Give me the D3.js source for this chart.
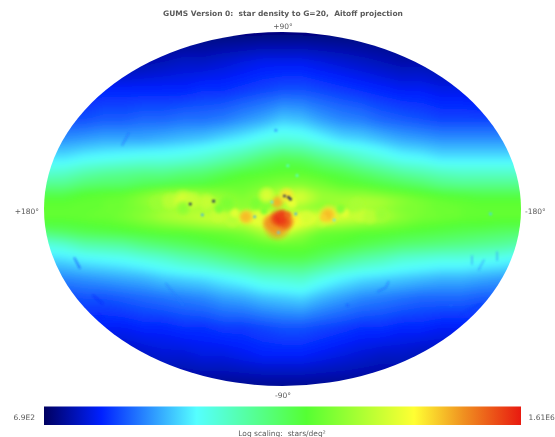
<!DOCTYPE html>
<html>
<head>
<meta charset="utf-8">
<script src="https://cdn.jsdelivr.net/npm/d3@7"></script>
<style>
  html, body { margin: 0; padding: 0; background: #fff; overflow: hidden; }
  text { font-family: "DejaVu Sans", sans-serif; fill: #5a5a5a; }
</style>
</head>
<body>
<script>
// map grid: longitude of each column, latitude of each row (degrees on the map axes)
var colLon = [180, 165, 150, 135, 120, 105, 90, 75, 60, 45, 30, 15, 0, -15, -30, -45, -60, -75, -90, -105, -120, -135, -150, -165, -180];
var rowLat = [90, 75, 60, 45, 35, 25, 18, 12, 8, 4, 0, -4, -8, -12, -18, -25, -35, -45, -60, -75, -90];

// star density, as position on the colour bar (0 = 6.9E2, 100 = 1.61E6)
var levels = [
  [2, 2, 2, 2, 2, 2, 2, 2, 2, 2, 2, 2, 2, 2, 2, 2, 2, 2, 2, 2, 2, 2, 2, 2, 2],
  [5, 5, 5, 5, 5, 6, 7, 8, 8, 9, 10, 11, 11, 11, 10, 9, 8, 7, 6, 6, 5, 5, 5, 5, 5],
  [12, 12, 12, 13, 13, 13, 13, 13, 14, 14, 15, 16, 17, 17, 16, 15, 14, 13, 12, 12, 11, 11, 10, 10, 10],
  [16, 17, 17, 18, 18, 19, 19, 20, 20, 21, 23, 25, 28, 27, 24, 22, 21, 19, 18, 17, 16, 16, 16, 16, 16],
  [23, 23, 24, 25, 25, 25, 26, 27, 28, 30, 32, 35, 37, 36, 33, 30, 29, 27, 25, 24, 23, 23, 23, 23, 23],
  [31, 31, 33, 34, 35, 36, 36, 37, 39, 42, 45, 49, 52, 51, 47, 44, 40, 37, 34, 33, 31, 31, 31, 31, 31],
  [38, 39, 42, 44, 45, 46, 46, 48, 49, 52, 55, 56, 57, 57, 55, 53, 50, 47, 44, 42, 40, 39, 39, 39, 39],
  [46, 46, 49, 50, 50, 52, 53, 54, 55, 57, 58, 60, 62, 62, 60, 57, 56, 54, 52, 50, 47, 46, 46, 46, 46],
  [52, 52, 55, 56, 57, 60, 64, 66, 64, 62, 60, 64, 70, 72, 64, 62, 62, 60, 58, 56, 54, 53, 52, 52, 52],
  [56, 56, 57, 58, 59, 63, 68, 70, 70, 66, 62, 64, 72, 72, 64, 66, 68, 67, 63, 60, 58, 57, 56, 56, 56],
  [57, 57, 57, 58, 59, 61, 64, 66, 66, 64, 62, 62, 64, 63, 62, 64, 66, 64, 61, 60, 58, 58, 57, 57, 57],
  [57, 57, 58, 58, 60, 63, 67, 69, 71, 72, 76, 78, 88, 78, 75, 74, 72, 69, 63, 60, 59, 58, 57, 57, 57],
  [54, 54, 55, 56, 57, 59, 61, 63, 65, 67, 68, 74, 84, 74, 67, 65, 63, 61, 59, 57, 56, 55, 55, 54, 54],
  [48, 50, 52, 53, 54, 55, 56, 56, 57, 58, 60, 66, 72, 64, 58, 57, 56, 56, 55, 54, 53, 52, 51, 50, 49],
  [36, 38, 42, 43, 44, 47, 49, 51, 53, 55, 56, 57, 58, 58, 56, 55, 53, 51, 49, 48, 47, 46, 45, 44, 42],
  [29, 30, 32, 33, 34, 36, 38, 41, 43, 46, 49, 52, 53, 53, 50, 46, 43, 41, 38, 37, 36, 36, 35, 34, 32],
  [21, 22, 23, 24, 25, 26, 28, 29, 30, 32, 34, 37, 38, 39, 35, 32, 30, 29, 28, 27, 26, 26, 25, 24, 23],
  [16, 16, 17, 17, 18, 19, 20, 21, 22, 24, 25, 27, 28, 29, 26, 24, 22, 21, 20, 19, 19, 19, 18, 18, 17],
  [12, 12, 12, 12, 12, 13, 13, 14, 14, 15, 15, 16, 17, 17, 16, 15, 14, 14, 13, 13, 12, 12, 12, 12, 12],
  [6, 6, 6, 7, 7, 8, 9, 9, 10, 10, 11, 12, 12, 12, 11, 10, 9, 8, 8, 7, 7, 6, 6, 6, 6],
  [4, 4, 4, 4, 4, 4, 4, 4, 4, 4, 4, 4, 4, 4, 4, 4, 4, 4, 4, 4, 4, 4, 4, 4, 4]
];

// clumps in the plane, painted in this order
var clumpLon = [95, 85, 75, 68, 57, 49, 38, 36, 19, 27, -18, -30, -35, -47, -59, -66, -75, -56, 42, 12, 20, 75, 48, -44, 14, 4, 9, -2, 3, 0, -4, 28, -34, -31, 4, -3, -7, 12];
var clumpLat = [3, 4, 4.5, 4.5, 3.5, -3, -6, -2, -4.5, -4, -4.5, -6, -3, -2, -3, -4, -3, 2, 3, 3, 3, 0.5, 0, 0, -1, -9, -7, -6.6, -4.6, -3, -3, -4, -3, -4.5, 3.5, 7, 3, 7];
var clumpLevel = [64, 68, 72, 70, 70, 70, 68, 74, 74, 82, 72, 70, 80, 74, 70, 68, 64, 66, 60, 61, 60, 62, 60, 61, 60, 88, 88, 94, 98, 96, 92, 84, 84, 82, 85, 80, 75, 73];
var clumpSize = [9, 10, 12, 10, 10, 9, 8, 6, 9, 9, 9, 8, 12, 6, 9, 9, 9, 9, 10, 7, 8, 9, 6, 6, 5, 15, 10, 10, 10, 7, 5, 7, 8, 5, 8, 9, 7, 10];

// small holes in the density (clusters, clouds)
var holeLon = [69.6, 52, -4.5, -6, -1.5, 60.5, 21, -10, 3, 8, -39, -4, -11, -157, 5, -49, -127];
var holeLat = [2.5, 4, 6, 5, 6.6, -3, -4, -2.5, -12, 3.5, -5.6, 22, 17, -2.5, 40, -49, -49];
var holeLevel = [0, 0, 0, 0, 0, 24, 24, 24, 28, 30, 30, 35, 35, 28, 22, 18, 18];

// dark streaks as [lon, lat] runs
var streaks = [
  [[157, -25], [153, -30]],
  [[116, 38.6], [121, 32.5]],
  [[-80, -37], [-78, -40], [-72, -42]],
  [[-134, -54], [-150, -48]],
  [[-143, -24], [-143, -28]],
  [[-152, -26], [-148, -31]],
  [[-162, -22], [-162, -26]],
  [[143, -44], [136, -48]],
  [[140, -53], [135, -56]],
  [[88, -38], [75, -49]]
];
var streakLevel = [12, 18, 18, 14, 22, 22, 22, 12, 12, 20];

// colour bar
var barStops = [0, 12, 32, 55, 77.6, 88, 100];
var barColors = ['#000060', '#0020ff', '#55ffff', '#55ff33', '#ffff33', '#f09020', '#e81a10'];

var width = 555;
var height = 437;

var x = d3.scaleLinear().domain([180, -180]).range([44, 521]);
var y = d3.scaleLinear().domain([90, -90]).range([32, 386]);
var color = d3.scaleLinear().domain(barStops).range(barColors).clamp(true);

var svg = d3.select('body').append('svg')
  .attr('width', width)
  .attr('height', height);

var defs = svg.append('defs');

function blur(id, amount) {
  defs.append('filter').attr('id', id)
    .attr('x', '-10%').attr('y', '-10%').attr('width', '120%').attr('height', '120%')
    .append('feGaussianBlur').attr('stdDeviation', amount);
}
blur('soft', 3);
blur('soft-clump', 0.8);
blur('soft-dot', 0.8);
blur('soft-text', 0.3);

// aitoff outline is an ellipse filling the axes box
var sky = svg.append('g').attr('clip-path', 'url(#sky)');

defs.append('clipPath').attr('id', 'sky')
  .append('ellipse')
  .attr('cx', x(0))
  .attr('cy', y(0))
  .attr('rx', x(-180) - x(0))
  .attr('ry', y(-90) - y(0));

// contour bands over the grid, columns and rows placed through the scales
var colPos = d3.scaleLinear().domain(colLon.map(function(d, i) { return i + 0.5; })).range(colLon.map(x));
var rowPos = d3.scaleLinear().domain(rowLat.map(function(d, i) { return i + 0.5; })).range(rowLat.map(y));

var contours = d3.contours()
  .size([colLon.length, rowLat.length])
  .thresholds(d3.range(0, 100, 1))(levels.flat());

var gridPath = d3.geoPath(d3.geoTransform({
  point: function(px, py) { this.stream.point(colPos(px), rowPos(py)); }
}));

sky.append('g').attr('filter', 'url(#soft)')
  .selectAll('.band')
  .data(contours)
  .enter().append('path')
  .attr('class', 'band')
  .attr('d', gridPath)
  .attr('fill', function(d) { return color(d.value); });

// each clump fades out to nothing so they melt together
var clumpGrads = defs.selectAll('.clump-grad')
  .data(clumpLevel)
  .enter().append('radialGradient')
  .attr('class', 'clump-grad')
  .attr('id', function(d, i) { return 'clump' + i; });

clumpGrads.append('stop').attr('offset', '0%')
  .attr('stop-color', function(d) { return color(d); }).attr('stop-opacity', 1);
clumpGrads.append('stop').attr('offset', '45%')
  .attr('stop-color', function(d) { return color(d); }).attr('stop-opacity', 0.8);
clumpGrads.append('stop').attr('offset', '100%')
  .attr('stop-color', function(d) { return color(d); }).attr('stop-opacity', 0);

sky.append('g').attr('filter', 'url(#soft-clump)')
  .selectAll('.clump')
  .data(clumpLon)
  .enter().append('circle')
  .attr('class', 'clump')
  .attr('cx', function(d) { return x(d); })
  .attr('cy', function(d, i) { return y(clumpLat[i]); })
  .attr('r', function(d, i) { return clumpSize[i]; })
  .attr('fill', function(d, i) { return 'url(#clump' + i + ')'; });

var line = d3.line()
  .x(function(d) { return x(d[0]); })
  .y(function(d) { return y(d[1]); });

var detail = sky.append('g').attr('filter', 'url(#soft-dot)');

detail.selectAll('.streak')
  .data(streaks)
  .enter().append('path')
  .attr('class', 'streak')
  .attr('d', line)
  .attr('fill', 'none')
  .attr('stroke-width', 1.8)
  .attr('stroke-linecap', 'round')
  .attr('stroke-opacity', 0.5)
  .attr('stroke', function(d, i) { return color(streakLevel[i]); });

detail.selectAll('.hole')
  .data(holeLon)
  .enter().append('circle')
  .attr('class', 'hole')
  .attr('cx', function(d) { return x(d); })
  .attr('cy', function(d, i) { return y(holeLat[i]); })
  .attr('r', 1.3)
  .attr('fill', function(d, i) { return color(holeLevel[i]); });

// colour bar drawn from the same scale
var barX = d3.scaleLinear().domain([0, 100]).range([44, 521]);

var gradient = defs.append('linearGradient').attr('id', 'bar');
gradient.selectAll('stop')
  .data(barStops)
  .enter().append('stop')
  .attr('offset', function(d) { return d + '%'; })
  .attr('stop-color', function(d) { return color(d); });

svg.append('rect')
  .attr('x', barX(0))
  .attr('y', 406.5)
  .attr('width', barX(100) - barX(0))
  .attr('height', 18.5)
  .attr('fill', 'url(#bar)');

// labels
var labels = svg.append('g').attr('filter', 'url(#soft-text)');

labels.append('text')
  .attr('x', 283).attr('y', 16)
  .attr('text-anchor', 'middle')
  .attr('font-size', 7.5)
  .attr('font-weight', 'bold')
  .attr('xml:space', 'preserve')
  .text('GUMS Version 0:  star density to G=20,  Aitoff projection');

var tickText = [
  { x: 283, y: 29, t: '+90°', a: 'middle' },
  { x: 283, y: 398, t: '-90°', a: 'middle' },
  { x: 39, y: 214, t: '+180°', a: 'end' },
  { x: 525, y: 214, t: '-180°', a: 'start' },
  { x: 35, y: 420, t: '6.9E2', a: 'end' },
  { x: 528.5, y: 420, t: '1.61E6', a: 'start' },
  { x: 282, y: 435.5, t: 'Log scaling:  stars/deg²', a: 'middle' }
];

labels.selectAll('.tick-label')
  .data(tickText)
  .enter().append('text')
  .attr('class', 'tick-label')
  .attr('x', function(d) { return d.x; })
  .attr('y', function(d) { return d.y; })
  .attr('text-anchor', function(d) { return d.a; })
  .attr('font-size', 7.5)
  .attr('xml:space', 'preserve')
  .text(function(d) { return d.t; });
</script>
</body>
</html>
